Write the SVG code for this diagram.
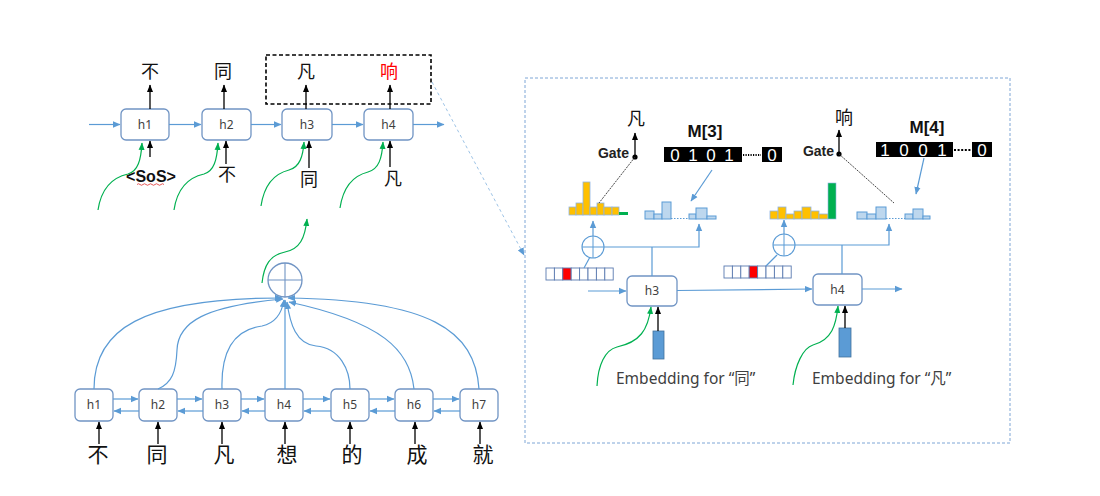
<svg xmlns="http://www.w3.org/2000/svg" width="1100" height="496" viewBox="0 0 1100 496">
<style>
.box{fill:#fff;stroke:#7094c4;stroke-width:1.3}
.bl{fill:none;stroke:#5b9bd5;stroke-width:1.2}
.gr{fill:none;stroke:#00b050;stroke-width:1.2}
.bk{fill:none;stroke:#000;stroke-width:1.3}
.lbl{font-family:"Noto Sans","Liberation Sans",sans-serif;font-size:12px;fill:#404040;text-anchor:middle}
.cjk{font-family:"Noto Sans CJK SC",sans-serif;fill:#111;text-anchor:middle}
.or{fill:#ffc000;stroke:#8fb4e3;stroke-width:0.8}
.lb{fill:#bdd7ee;stroke:#5b9bd5;stroke-width:1}
.cell{fill:#fff;stroke:#5a7ab0;stroke-width:0.9}
.mem{fill:#000}
.dig{font-family:"Liberation Sans",sans-serif;font-size:17px;fill:#fff;text-anchor:middle}
.gate{font-family:"Liberation Sans",sans-serif;font-size:14px;font-weight:bold;fill:#222;text-anchor:end}
.mt{font-family:"Liberation Sans",sans-serif;font-size:17px;font-weight:bold;fill:#111;text-anchor:middle}
.emb{font-family:"Noto Sans","Noto Sans CJK SC",sans-serif;font-size:15.5px;fill:#404040}
</style>
<defs>
<marker id="ab" markerWidth="8" markerHeight="8" refX="7" refY="4" orient="auto" markerUnits="userSpaceOnUse"><path d="M0,0.8 L7.5,4 L0,7.2 Z" fill="#5b9bd5"/></marker>
<marker id="ak" markerWidth="8" markerHeight="8" refX="7" refY="4" orient="auto" markerUnits="userSpaceOnUse"><path d="M0,1 L7.5,4 L0,7 Z" fill="#000"/></marker>
<marker id="ag" markerWidth="8" markerHeight="8" refX="7" refY="4" orient="auto" markerUnits="userSpaceOnUse"><path d="M0,1 L7.5,4 L0,7 Z" fill="#00b050"/></marker>
</defs>
<rect width="1100" height="496" fill="#fff"/>

<!-- Decoder (top-left) -->
<g id="dec-h1"><rect class="box" x="121" y="109" width="48" height="31" rx="5"/><text class="lbl" x="145" y="129">h1</text></g>
<g id="dec-h2"><rect class="box" x="202" y="109" width="49" height="31" rx="5"/><text class="lbl" x="226.5" y="129">h2</text></g>
<g id="dec-h3"><rect class="box" x="282" y="109" width="50" height="31" rx="5"/><text class="lbl" x="307" y="129">h3</text></g>
<g id="dec-h4"><rect class="box" x="364" y="109" width="49" height="31" rx="5"/><text class="lbl" x="388.5" y="129">h4</text></g>
<g id="dec-out">
<text class="cjk" x="150" y="78" font-size="18">不</text>
<text class="cjk" x="223" y="78" font-size="18">同</text>
<text class="cjk" x="306" y="78" font-size="18">凡</text>
<text class="cjk" x="389" y="78" font-size="18" style="fill:#ff0000">响</text>
</g>
<g id="dec-in">
<text x="151" y="182" font-family="Liberation Sans,sans-serif" font-size="16" font-weight="bold" fill="#111" text-anchor="middle">&lt;SoS&gt;</text>
<path d="M137,184.5 q1.5,-1.5 3,0 t3,0 t3,0 t3,0 t3,0 t3,0 t3,0 t3,0 t3,0" fill="none" stroke="#e03030" stroke-width="0.8"/>
<text class="cjk" x="227" y="181" font-size="18">不</text>
<text class="cjk" x="309" y="186" font-size="18">同</text>
<text class="cjk" x="393" y="185" font-size="18">凡</text>
</g>
<g id="highlight"><rect x="266" y="55" width="165" height="49" fill="none" stroke="#000" stroke-width="1.6" stroke-dasharray="4,2.5"/></g>

<!-- Encoder -->
<g id="enc-h1"><rect class="box" x="75" y="389" width="38" height="32" rx="5"/><text class="lbl" x="94" y="409">h1</text></g>
<g id="enc-h2"><rect class="box" x="139" y="389" width="38" height="32" rx="5"/><text class="lbl" x="158" y="409">h2</text></g>
<g id="enc-h3"><rect class="box" x="203" y="389" width="38" height="32" rx="5"/><text class="lbl" x="222" y="409">h3</text></g>
<g id="enc-h4"><rect class="box" x="265" y="389" width="38" height="32" rx="5"/><text class="lbl" x="284" y="409">h4</text></g>
<g id="enc-h5"><rect class="box" x="331" y="389" width="38" height="32" rx="5"/><text class="lbl" x="350" y="409">h5</text></g>
<g id="enc-h6"><rect class="box" x="395" y="389" width="38" height="32" rx="5"/><text class="lbl" x="414" y="409">h6</text></g>
<g id="enc-h7"><rect class="box" x="460" y="389" width="38" height="32" rx="5"/><text class="lbl" x="479" y="409">h7</text></g>
<g id="enc-in">
<text class="cjk" x="98" y="462" font-size="21">不</text>
<text class="cjk" x="157" y="462" font-size="21">同</text>
<text class="cjk" x="224" y="462" font-size="21">凡</text>
<text class="cjk" x="287" y="462" font-size="21">想</text>
<text class="cjk" x="352" y="462" font-size="21">的</text>
<text class="cjk" x="417" y="462" font-size="21">成</text>
<text class="cjk" x="483" y="462" font-size="21">就</text>
</g>
<g id="attn-sum"><circle cx="285" cy="280" r="17" fill="#fff" stroke="#7094c4" stroke-width="1.3"/><path d="M268,280 H302 M285,263 V297" stroke="#7094c4" stroke-width="1.1"/></g>

<!-- Right panel -->
<g id="panel"><rect x="525" y="78" width="485" height="365" fill="none" stroke="#7ea6d6" stroke-width="1" stroke-dasharray="3,2"/></g>
<g id="r-h3"><rect class="box" x="627" y="276" width="50" height="30" rx="5"/><text class="lbl" x="652" y="295">h3</text></g>
<g id="r-h4"><rect class="box" x="813" y="274" width="49" height="31" rx="5"/><text class="lbl" x="837.5" y="294">h4</text></g>
<g id="emb3"><rect x="653" y="331" width="11" height="28" fill="#5b9bd5" stroke="#41719c" stroke-width="0.8"/><text class="emb" x="616" y="384">Embedding for “同”</text></g>
<g id="emb4"><rect x="839" y="328" width="12" height="29" fill="#5b9bd5" stroke="#41719c" stroke-width="0.8"/><text class="emb" x="812" y="384">Embedding for “凡”</text></g>

<g id="sum3"><circle cx="593" cy="247" r="11" fill="#fff" stroke="#5b9bd5" stroke-width="1.1"/><path d="M582,247 H604 M593,236 V258" stroke="#5b9bd5" stroke-width="1"/></g>
<g id="sum4"><circle cx="784" cy="245" r="11" fill="#fff" stroke="#5b9bd5" stroke-width="1.1"/><path d="M773,245 H795 M784,234 V256" stroke="#5b9bd5" stroke-width="1"/></g>

<g id="cells3">
<rect class="cell" x="546" y="268" width="8.4" height="12"/><rect class="cell" x="554.4" y="268" width="8.4" height="12"/><rect x="562.8" y="268" width="8.4" height="12" fill="#ff0000" stroke="#5a7ab0" stroke-width="0.9"/><rect class="cell" x="571.2" y="268" width="8.4" height="12"/><rect class="cell" x="579.6" y="268" width="8.4" height="12"/><rect class="cell" x="588" y="268" width="8.4" height="12"/><rect class="cell" x="596.4" y="268" width="8.4" height="12"/><rect class="cell" x="604.8" y="268" width="8.4" height="12"/>
</g>
<g id="cells4">
<rect class="cell" x="724" y="266" width="8.4" height="12"/><rect class="cell" x="732.4" y="266" width="8.4" height="12"/><rect class="cell" x="740.8" y="266" width="8.4" height="12"/><rect x="749.2" y="266" width="8.4" height="12" fill="#ff0000" stroke="#5a7ab0" stroke-width="0.9"/><rect class="cell" x="757.6" y="266" width="8.4" height="12"/><rect class="cell" x="766" y="266" width="8.4" height="12"/><rect class="cell" x="774.4" y="266" width="8.4" height="12"/><rect class="cell" x="782.8" y="266" width="8.4" height="12"/>
</g>

<g id="hist3-out">
<rect class="or" x="569" y="207" width="7" height="8"/><rect class="or" x="576" y="203" width="7" height="12"/><rect class="or" x="583" y="182" width="7" height="33"/><rect class="or" x="590" y="207" width="7" height="8"/><rect class="or" x="597" y="203" width="7" height="12"/><rect class="or" x="604" y="207" width="8" height="8"/><rect class="or" x="612" y="207" width="7" height="8"/><rect x="619" y="212" width="9" height="3" fill="#00b050"/>
</g>
<g id="hist3-copy">
<rect class="lb" x="645" y="211" width="9" height="8"/><rect class="lb" x="654" y="214" width="8" height="5"/><rect class="lb" x="662" y="202" width="9" height="17"/><rect class="lb" x="689" y="214" width="7" height="5"/><rect class="lb" x="696" y="208" width="11" height="11"/><rect class="lb" x="707" y="216" width="9" height="3"/>
<path d="M671,218.5 H689" stroke="#5b9bd5" stroke-width="1.2" stroke-dasharray="1.5,1.5"/>
</g>
<g id="hist4-out">
<rect class="or" x="770" y="211" width="8" height="8"/><rect class="or" x="778" y="207" width="8" height="12"/><rect class="or" x="786" y="214" width="8" height="5"/><rect class="or" x="794" y="211" width="8" height="8"/><rect class="or" x="802" y="207" width="9" height="12"/><rect class="or" x="811" y="211" width="8" height="8"/><rect class="or" x="819" y="214" width="9" height="5"/><rect x="828" y="183" width="8" height="36" fill="#00b050" stroke="#8fb4e3" stroke-width="0.6"/>
</g>
<g id="hist4-copy">
<rect class="lb" x="857" y="212" width="10" height="7"/><rect class="lb" x="867" y="214" width="9" height="5"/><rect class="lb" x="876" y="207" width="10" height="12"/><rect class="lb" x="905" y="214" width="8" height="5"/><rect class="lb" x="913" y="209" width="10" height="10"/><rect class="lb" x="923" y="216" width="7" height="3"/>
<path d="M886,218.5 H905" stroke="#5b9bd5" stroke-width="1.2" stroke-dasharray="1.5,1.5"/>
</g>

<g id="mem3">
<text class="mt" x="705" y="137">M[3]</text>
<rect class="mem" x="664" y="147" width="78" height="15"/>
<text class="dig" x="675" y="161">0</text><text class="dig" x="693" y="161">1</text><text class="dig" x="711" y="161">0</text><text class="dig" x="729" y="161">1</text>
<path d="M743,155 H761" stroke="#000" stroke-width="1.8" stroke-dasharray="1.2,1.3"/>
<rect class="mem" x="762" y="147" width="20" height="15"/><text class="dig" x="772" y="161">0</text>
</g>
<g id="mem4">
<text class="mt" x="927" y="133">M[4]</text>
<rect class="mem" x="876" y="142" width="77" height="15"/>
<text class="dig" x="885" y="156">1</text><text class="dig" x="904" y="156">0</text><text class="dig" x="923" y="156">0</text><text class="dig" x="942" y="156">1</text>
<path d="M954,150 H971" stroke="#000" stroke-width="2.2" stroke-dasharray="2,1.6"/>
<rect class="mem" x="972" y="142" width="20" height="15"/><text class="dig" x="982" y="156">0</text>
</g>

<g id="gate3">
<text class="gate" x="629" y="158">Gate</text>
<circle cx="635" cy="157" r="2.6" fill="#000"/>
<text class="cjk" x="636" y="125" font-size="18">凡</text>
</g>
<g id="gate4">
<text class="gate" x="834" y="156">Gate</text>
<circle cx="839" cy="154" r="2.6" fill="#000"/>
<text class="cjk" x="844" y="124" font-size="18">响</text>
</g>

<!-- Connectors -->
<g id="connectors">
<path class="bl" d="M89,124.5 H120" marker-end="url(#ab)"/>
<path class="bl" d="M169,124.5 H201" marker-end="url(#ab)"/>
<path class="bl" d="M251,124.5 H281" marker-end="url(#ab)"/>
<path class="bl" d="M332,124.5 H363" marker-end="url(#ab)"/>
<path class="bl" d="M413,124.5 H444" marker-end="url(#ab)"/>
<path class="bk" d="M150,109 V85" marker-end="url(#ak)"/>
<path class="bk" d="M224,109 V85" marker-end="url(#ak)"/>
<path class="bk" d="M306,109 V85" marker-end="url(#ak)"/>
<path class="bk" d="M390,109 V85" marker-end="url(#ak)"/>
<path class="bk" d="M150,157 V141" marker-end="url(#ak)"/>
<path class="bk" d="M226,164 V141" marker-end="url(#ak)"/>
<path class="bk" d="M309,168 V141" marker-end="url(#ak)"/>
<path class="bk" d="M390,167 V141" marker-end="url(#ak)"/>
<path class="gr" d="M98,210 C101,190 110,178 128,174 C138,171 141,160 142,143" marker-end="url(#ag)"/>
<path class="gr" d="M174,210 C177,190 186,178 204,174 C214,171 217,160 218,143" marker-end="url(#ag)"/>
<path class="gr" d="M261,206 C264,186 273,174 289,170 C300,167 303,156 304,142" marker-end="url(#ag)"/>
<path class="gr" d="M340,208 C343,188 352,176 368,172 C379,169 382,158 383,142" marker-end="url(#ag)"/>
<path class="gr" d="M262,283 C264,265 270,255 285,252 C300,249 305,238 307,219" marker-end="url(#ag)"/>
<path class="bl" d="M113,399 H138" marker-end="url(#ab)"/>
<path class="bl" d="M177,399 H202" marker-end="url(#ab)"/>
<path class="bl" d="M241,399 H264" marker-end="url(#ab)"/>
<path class="bl" d="M303,399 H330" marker-end="url(#ab)"/>
<path class="bl" d="M369,399 H394" marker-end="url(#ab)"/>
<path class="bl" d="M433,399 H459" marker-end="url(#ab)"/>
<path class="bl" d="M139,411 H114" marker-end="url(#ab)"/>
<path class="bl" d="M203,411 H178" marker-end="url(#ab)"/>
<path class="bl" d="M265,411 H242" marker-end="url(#ab)"/>
<path class="bl" d="M331,411 H304" marker-end="url(#ab)"/>
<path class="bl" d="M395,411 H370" marker-end="url(#ab)"/>
<path class="bl" d="M460,411 H434" marker-end="url(#ab)"/>
<path class="bk" d="M99,444 V422" marker-end="url(#ak)"/>
<path class="bk" d="M158,444 V422" marker-end="url(#ak)"/>
<path class="bk" d="M222,444 V422" marker-end="url(#ak)"/>
<path class="bk" d="M285,444 V422" marker-end="url(#ak)"/>
<path class="bk" d="M350,444 V422" marker-end="url(#ak)"/>
<path class="bk" d="M415,444 V422" marker-end="url(#ak)"/>
<path class="bk" d="M480,444 V422" marker-end="url(#ak)"/>
<path class="bl" d="M94,389 C94,330 140,298 282,298" marker-end="url(#ab)"/>
<path class="bl" d="M158,389 C172,383 176,372 177,350 C178,322 205,306 283,299" marker-end="url(#ab)"/>
<path class="bl" d="M222,389 C221,356 230,330 262,326 C276,323 282,312 284,300" marker-end="url(#ab)"/>
<path class="bl" d="M285,389 V300" marker-end="url(#ab)"/>
<path class="bl" d="M350,389 C350,370 340,348 316,346 C296,344 290,324 287,302" marker-end="url(#ab)"/>
<path class="bl" d="M414,389 C410,350 382,322 289,302" marker-end="url(#ab)"/>
<path class="bl" d="M479,389 C475,330 430,300 288,298" marker-end="url(#ab)"/>
<path d="M432,82 L524,255" fill="none" stroke="#9dc3e6" stroke-width="1" stroke-dasharray="3,3" marker-end="url(#ab)"/>
<path class="bl" d="M588,291 H626" marker-end="url(#ab)"/>
<path class="bl" d="M677,290.5 L812,289" marker-end="url(#ab)"/>
<path class="bl" d="M862,289 H902" marker-end="url(#ab)"/>
<path class="bk" d="M658,331 V307" marker-end="url(#ak)"/>
<path class="bk" d="M845,328 V306" marker-end="url(#ak)"/>
<path class="gr" d="M597,386 C598,365 605,350 617,347 C640,342 648,330 651,307" marker-end="url(#ag)"/>
<path class="gr" d="M793,385 C795,365 803,348 813,345 C832,340 836,325 838,306" marker-end="url(#ag)"/>
<path class="bl" d="M652,276 V247 M604,247 H699 V224" marker-end="url(#ab)"/>
<path class="bl" d="M593,236 V221" marker-end="url(#ab)"/>
<path class="bl" d="M584,268 L590,257"/>
<path class="bl" d="M842,274 V245 M795,245 H889 V224" marker-end="url(#ab)"/>
<path class="bl" d="M784,234 V220" marker-end="url(#ab)"/>
<path class="bl" d="M766,266 L777,255"/>
<path class="bl" d="M712,170 L691,201" marker-end="url(#ab)"/>
<path class="bl" d="M924,158 L916,194" marker-end="url(#ab)"/>
<path d="M635,157 L599,203" fill="none" stroke="#333" stroke-width="0.9" stroke-dasharray="2,1"/>
<path d="M839,154 L894,203" fill="none" stroke="#333" stroke-width="0.9" stroke-dasharray="2,1"/>
<path class="bk" d="M635,155 V133" marker-end="url(#ak)"/>
<path class="bk" d="M839,152 V130" marker-end="url(#ak)"/>
</g>
</svg>
